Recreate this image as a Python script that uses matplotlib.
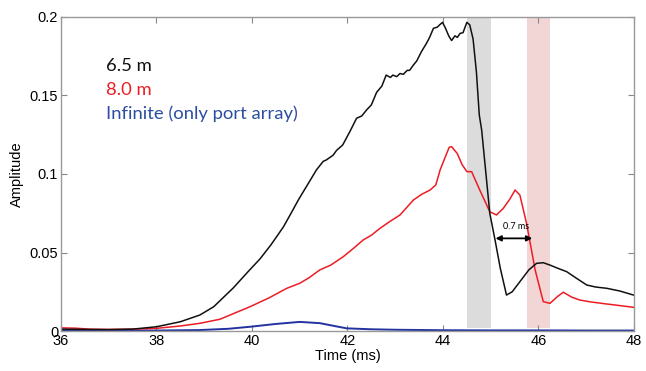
import matplotlib
matplotlib.use('Agg')
import matplotlib.pyplot as plt
import numpy as np

# 6.5 m wall (black)
t_65 = [36.0, 36.5, 37.0, 37.5, 38.0, 38.5, 38.91, 39.2, 39.61, 39.9, 40.17, 40.4, 40.66,
        40.8, 40.97, 41.1, 41.35, 41.49, 41.56, 41.7, 41.77, 41.9, 42.05, 42.19, 42.3, 42.4,
        42.5, 42.61, 42.72, 42.81, 42.9, 42.95, 43.03, 43.1, 43.17, 43.25, 43.3, 43.38,
        43.45, 43.55, 43.65, 43.72, 43.8, 43.88, 43.93, 43.99, 44.05, 44.12, 44.18, 44.25,
        44.3, 44.36, 44.42, 44.5, 44.56, 44.63, 44.7, 44.76, 44.81, 44.9, 44.98, 45.09,
        45.2, 45.33, 45.45, 45.61, 45.8, 45.96, 46.1, 46.24, 46.4, 46.59, 46.8, 47.01,
        47.2, 47.43, 47.7, 47.99]
a_65 = [0.0012, 0.0010, 0.0009, 0.0012, 0.0027, 0.0059, 0.0102, 0.0155, 0.0275, 0.0372,
        0.0460, 0.0550, 0.0664, 0.0740, 0.0834, 0.0900, 0.1026, 0.1080, 0.1090, 0.1120,
        0.1150, 0.1185, 0.1270, 0.1355, 0.1370, 0.1408, 0.1440, 0.1520, 0.1560, 0.1630,
        0.1615, 0.1630, 0.1620, 0.1640, 0.1635, 0.1660, 0.1660, 0.1694, 0.1720, 0.1780,
        0.1830, 0.1870, 0.1928, 0.1935, 0.1950, 0.1966, 0.1930, 0.1880, 0.1850, 0.1880,
        0.1870, 0.1896, 0.1900, 0.1966, 0.1950, 0.1860, 0.1650, 0.1376, 0.1280, 0.1000,
        0.0750, 0.0580, 0.0400, 0.0229, 0.0250, 0.0314, 0.0390, 0.0431, 0.0435, 0.0420,
        0.0400, 0.0378, 0.0335, 0.0293, 0.0280, 0.0272, 0.0255, 0.0229]

# 8.0 m wall (red)
t_80 = [36.0, 36.3, 36.6, 37.0, 37.5, 38.0, 38.5, 38.91, 39.33, 39.96, 40.35, 40.73, 41.0,
        41.2, 41.42, 41.65, 41.91, 42.1, 42.33, 42.5, 42.68, 42.9, 43.1, 43.25, 43.38,
        43.55, 43.73, 43.85, 43.94, 44.05, 44.13, 44.18, 44.3, 44.4, 44.5, 44.6, 44.77,
        44.98, 45.12, 45.26, 45.4, 45.51, 45.61, 45.75, 45.93, 46.1, 46.24, 46.4, 46.52,
        46.7, 46.87, 47.1, 47.43, 47.7, 47.99]
a_80 = [0.0020, 0.0018, 0.0012, 0.0010, 0.0012, 0.0017, 0.0032, 0.0049, 0.0075, 0.0155,
        0.0210, 0.0272, 0.0304, 0.0340, 0.0389, 0.0420, 0.0473, 0.0520, 0.0580, 0.0610,
        0.0654, 0.0700, 0.0739, 0.0790, 0.0834, 0.0870, 0.0898, 0.0930, 0.1026, 0.1110,
        0.1170, 0.1174, 0.1130, 0.1060, 0.1015, 0.1015, 0.0898, 0.0760, 0.0739, 0.0780,
        0.0840, 0.0898, 0.0866, 0.0686, 0.0389, 0.0187, 0.0176, 0.0220, 0.0247, 0.0215,
        0.0197, 0.0185, 0.0172, 0.0162, 0.0151]

# infinite room, only port array (blue)
t_inf = [36.0, 37.0, 38.0, 38.9, 39.5, 39.96, 40.5, 41.0, 41.42, 41.98, 42.5, 43.0, 44.0,
         45.0, 46.0, 47.0, 48.0]
a_inf = [0.0005, 0.0004, 0.0003, 0.0006, 0.0014, 0.0027, 0.0045, 0.0058, 0.0050, 0.0017,
         0.0011, 0.0008, 0.0005, 0.0004, 0.0004, 0.0003, 0.0003]

legend_labels = ['6.5 m', '8.0 m', 'Infinite (only port array)']
legend_colors = ['#111111', '#ee1c24', '#2b4ea2']

fig = plt.figure(figsize=(6.46, 3.71), dpi=100)
ax = fig.add_axes([0.0944, 0.1078, 0.887, 0.8464])

ax.axvspan(44.5, 45.0, ymin=0.01, ymax=1, color='#dcdcdc', lw=0)
ax.axvspan(45.75, 46.25, ymin=0.01, ymax=1, color='#f2d6d6', lw=0)

ax.plot(t_inf, a_inf, color='#2233a0', lw=1.4)
ax.plot(t_80, a_80, color='#ee1c24', lw=1.1)
ax.plot(t_65, a_65, color='#111111', lw=1.1)

ax.annotate('', xy=(45.1, 0.059), xytext=(45.87, 0.059),
            arrowprops=dict(arrowstyle='<|-|>', color='black', lw=1.3,
                            mutation_scale=8, shrinkA=0, shrinkB=0))
ax.text(45.52, 0.0665, '0.7 ms', fontsize=6.5, family='Lato', ha='center', va='center')

for i, (lab, col) in enumerate(zip(legend_labels, legend_colors)):
    ax.text(36.94, 0.169 - i * 0.0153, lab, color=col, fontsize=13.3, family='Lato',
            va='center', ha='left')

ax.set_xlim(36, 48)
ax.set_ylim(0, 0.2)
ax.set_xticks([36, 38, 40, 42, 44, 46, 48])
ax.set_yticks([0, 0.05, 0.1, 0.15, 0.2])
ax.set_yticklabels(['0', '0.05', '0.1', '0.15', '0.2'])
ax.tick_params(direction='in', top=True, right=True, length=4, color='#888888',
               labelsize=10.5, pad=2)
for lab in ax.get_xticklabels() + ax.get_yticklabels():
    lab.set_family('Liberation Sans')
for s in ax.spines.values():
    s.set_color('#999999')
    s.set_linewidth(1.0)

ax.set_xlabel('Time (ms)', fontsize=10.5, family='Liberation Sans', labelpad=1)
ax.set_ylabel('Amplitude', fontsize=10.5, family='Liberation Sans', labelpad=4)

fig.savefig('out.png', dpi=100)
